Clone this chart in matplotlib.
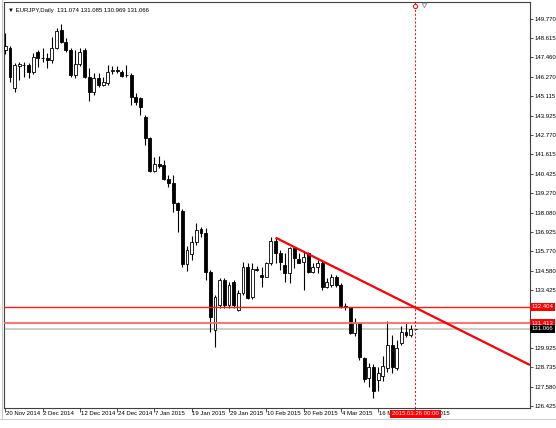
import matplotlib
matplotlib.use("Agg")
import matplotlib.pyplot as plt
import matplotlib.transforms as mtransforms
from matplotlib.lines import Line2D

plt.rcParams['font.family'] = ['Liberation Sans', 'DejaVu Sans']

# ---------------- data ----------------
symbol_title = "EURJPY,Daily  131.074 131.085 130.969 131.066"

opens = [147.91, 148.01, 145.59, 146.94, 146.97, 147.00, 146.56, 147.77, 147.39, 147.44,
         147.30, 148.01, 149.11, 148.41, 147.90, 146.40, 147.04, 147.90, 146.29, 145.39,
         146.23, 145.79, 145.89, 146.64, 146.67, 146.59, 146.38, 146.40, 145.09, 144.99,
         143.88, 142.57, 140.62, 141.02, 140.96, 140.10, 139.89, 138.68, 138.20, 134.96,
         135.59, 136.31, 137.07, 136.84, 134.52, 131.00, 132.51, 134.02, 132.51, 133.91,
         132.20, 133.25, 134.82, 132.97, 134.68, 134.32, 134.21, 135.02, 136.39, 135.63,
         134.92, 134.42, 135.93, 135.27, 135.10, 135.63, 134.52, 134.80, 135.04, 133.61,
         133.71, 134.21, 133.71, 132.46, 132.37, 130.80, 131.40, 129.29, 128.08, 128.78,
         127.98, 128.22, 128.70, 130.09, 128.70, 130.21, 130.88, 130.70, 131.074]
highs = [148.93, 148.16, 147.10, 147.20, 147.18, 147.10, 147.71, 147.90, 148.01, 147.71,
         148.71, 149.25, 149.46, 148.61, 148.01, 147.90, 148.01, 148.01, 146.80, 146.50,
         146.50, 146.29, 147.00, 146.94, 146.94, 146.70, 147.00, 146.50, 145.33, 145.09,
         143.98, 142.63, 141.46, 141.50, 141.26, 140.36, 140.36, 138.74, 138.30, 136.07,
         136.67, 137.46, 137.22, 137.16, 134.62, 133.11, 134.12, 134.12, 133.91, 134.02,
         133.41, 135.12, 135.06, 135.02, 134.86, 134.82, 135.12, 136.63, 136.59, 135.83,
         135.63, 136.03, 136.03, 135.63, 135.71, 135.73, 135.02, 135.22, 135.22, 134.12,
         134.38, 134.32, 133.82, 132.61, 132.40, 131.70, 131.44, 129.38, 129.00, 128.94,
         128.76, 129.43, 131.54, 130.70, 130.39, 131.24, 131.42, 131.30, 131.085]
lows = [147.66, 145.99, 145.39, 146.09, 146.27, 146.20, 146.44, 146.90, 147.20, 146.80,
        147.10, 147.97, 148.31, 147.80, 146.29, 146.20, 146.96, 146.20, 144.83, 145.19,
        145.69, 145.73, 145.79, 146.46, 146.53, 146.29, 146.29, 144.58, 144.58, 143.98,
        142.17, 140.56, 140.56, 140.78, 140.05, 139.65, 138.14, 136.93, 134.82, 134.58,
        135.22, 136.13, 136.63, 134.02, 130.89, 129.99, 132.31, 132.31, 132.31, 132.31,
        132.16, 133.11, 132.85, 132.85, 134.58, 133.61, 134.18, 134.92, 135.02, 134.62,
        133.91, 133.83, 134.74, 135.02, 133.41, 134.42, 134.42, 134.42, 133.41, 133.51,
        133.61, 133.61, 132.31, 132.20, 130.76, 130.63, 129.19, 127.88, 127.57, 126.87,
        127.31, 127.92, 128.46, 128.40, 128.58, 130.09, 130.57, 130.57, 130.969]
closes = [148.15, 146.29, 147.00, 147.03, 147.01, 146.56, 147.50, 147.40, 147.42, 147.30,
          148.04, 149.05, 148.41, 147.90, 146.40, 147.04, 147.80, 146.29, 145.39, 146.20,
          145.79, 145.99, 146.59, 146.67, 146.64, 146.33, 146.41, 145.09, 144.78, 144.44,
          142.57, 140.62, 141.00, 140.90, 140.10, 139.89, 138.68, 138.24, 134.96, 135.83,
          136.28, 137.04, 136.84, 134.52, 131.80, 133.01, 134.02, 132.51, 133.71, 132.51,
          133.25, 134.82, 132.91, 134.66, 134.60, 134.18, 135.02, 136.39, 135.63, 135.12,
          134.42, 135.93, 135.33, 135.06, 135.41, 134.52, 134.80, 135.02, 133.59, 133.90,
          134.21, 133.71, 132.46, 132.39, 130.82, 131.40, 129.34, 128.04, 128.78, 127.31,
          128.40, 128.82, 130.09, 128.76, 129.91, 130.88, 130.70, 131.06, 131.066]

date_labels = ["20 Nov 2014", "2 Dec 2014", "12 Dec 2014", "24 Dec 2014", "7 Jan 2015",
               "19 Jan 2015", "29 Jan 2015", "10 Feb 2015", "20 Feb 2015", "4 Mar 2015",
               "16 Mar 2015", "26 Mar 2015"]
bars_per_label = 8

price_ticks = [149.770, 148.615, 147.460, 146.270, 145.115, 143.925, 142.770, 141.615,
               140.425, 139.270, 138.080, 136.925, 135.770, 134.580, 133.425,
               129.925, 128.735, 127.580, 126.425]

resistance_levels = [132.404, 131.413]
bid_price = 131.066
trend_x = [58.0, 112.6]
trend_y = [136.57, 128.88]
cursor_bar = 88
cursor_label = "2015.03.26 00:00"

# ---------------- figure ----------------
W, H = 556, 428
fig = plt.figure(figsize=(W / 100, H / 100), dpi=100)
fig.patch.set_facecolor('white')
ax_l, ax_r, ax_t, ax_b = 4, 530, 2, 408
ax = fig.add_axes([ax_l / W, 1 - ax_b / H, (ax_r - ax_l) / W, (ax_b - ax_t) / H])

n = len(opens)
xs = list(range(n))
ax.set_xlim(-0.28, 112.6)
ax.set_ylim(126.286, 150.80)

# wicks
ax.vlines(xs, lows, highs, color='black', linewidth=0.8, zorder=2)
# bodies
for i in xs:
    o, c = opens[i], closes[i]
    bull = c >= o
    ax.bar(i, max(abs(c - o), 0.004), bottom=min(o, c), width=0.62,
           color='white' if bull else 'black', edgecolor='black',
           linewidth=0.6, zorder=3)

# horizontal levels
ax.axhline(resistance_levels[0], color='#ff1a1a', linewidth=1.0, zorder=4)
ax.axhline(resistance_levels[1], color='#ff6666', linewidth=1.3, zorder=4)
ax.axhline(bid_price, color='#cccccc', linewidth=1.4, zorder=1)

# trend line
ax.plot(trend_x, trend_y, color='#ff0000', linewidth=1.6, zorder=5,
        solid_capstyle='butt')

# cursor vertical dashed line
ax.axvline(cursor_bar, color='#ff0000', linewidth=0.7, linestyle=(0, (2, 2)), zorder=4)

# top markers
ax.plot([cursor_bar], [150.55], marker='o', markersize=3, markerfacecolor='white',
        markeredgecolor='#ff0000', markeredgewidth=0.7, clip_on=False, zorder=6)
ax.plot([cursor_bar + 1.8], [150.62], marker='v', markersize=3.2, markerfacecolor='white',
        markeredgecolor='#999999', markeredgewidth=0.7, clip_on=False, zorder=6)

# spines
for s in ax.spines.values():
    s.set_color('#404040')
    s.set_linewidth(0.8)

# y axis on right
ax.yaxis.tick_right()
ax.set_yticks(price_ticks)
ax.set_yticklabels([f"{v:.3f}" for v in price_ticks])
ax.tick_params(axis='y', length=2.5, width=0.6, pad=1, labelsize=4.3,
               colors='#333333', labelcolor='black')

# x ticks
tick_idx = [k * bars_per_label for k in range(len(date_labels))]
ax.set_xticks(tick_idx)
ax.set_xticklabels([''] * len(tick_idx))
ax.tick_params(axis='x', length=3, width=0.6, colors='#333333')
xtrans = mtransforms.blended_transform_factory(ax.transData, ax.transAxes)
for idx, lab in zip(tick_idx, date_labels):
    ax.text(idx + 0.15, -0.0135, lab, transform=xtrans, ha='left', va='center',
            fontsize=4.3, color='black', clip_on=False)

# price label boxes on right axis
ytrans = mtransforms.blended_transform_factory(ax.transAxes, ax.transData)
for lvl in resistance_levels:
    ax.text(1.003, lvl, f"{lvl:.3f}", transform=ytrans, ha='left', va='center',
            fontsize=4.3, color='white', zorder=10, clip_on=False,
            bbox=dict(boxstyle='square,pad=0.25', fc='#ff0000', ec='none'))
ax.text(1.003, bid_price, f"{bid_price:.3f}", transform=ytrans, ha='left', va='center',
        fontsize=4.3, color='white', zorder=10, clip_on=False,
        bbox=dict(boxstyle='square,pad=0.25', fc='black', ec='none'))

# cursor date box
ax.text(cursor_bar, -0.0143, cursor_label, transform=xtrans, ha='center', va='center',
        fontsize=4.3, color='white', zorder=10, clip_on=False,
        bbox=dict(boxstyle='square,pad=0.3', fc='#ff0000', ec='none'))

# title
ax.text(0.008, 0.985, "\u25BC " + symbol_title, transform=ax.transAxes, ha='left', va='top',
        fontsize=4.3, color='black', zorder=10)

# outer window frame lines
fig.add_artist(Line2D([1.5 / W, 1.5 / W], [1 - 419 / H, 1], transform=fig.transFigure,
                      color='#c8c8c8', linewidth=0.8))
fig.add_artist(Line2D([0, 1], [1 - 419 / H, 1 - 419 / H], transform=fig.transFigure,
                      color='#d0d0d0', linewidth=0.8))

fig.savefig("out.png", dpi=100, facecolor='white')
